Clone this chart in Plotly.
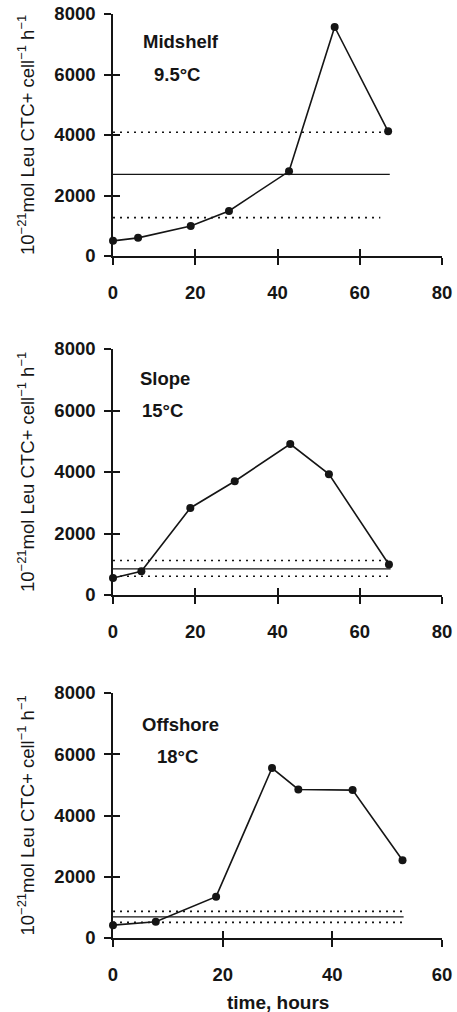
import plotly.graph_objects as go

# ---------------- data ----------------
site_names = ["Midshelf", "Slope", "Offshore"]
site_temps = ["9.5°C", "15°C", "18°C"]

mid_t = [0, 6.1, 18.9, 28.2, 42.8, 53.9, 66.9]
mid_v = [500, 600, 990, 1490, 2800, 7570, 4120]

slope_t = [0, 6.9, 18.8, 29.6, 43.1, 52.5, 67.1]
slope_v = [550, 770, 2830, 3700, 4910, 3930, 990]

off_t = [0, 7.8, 18.8, 29.0, 33.8, 43.7, 52.8]
off_v = [420, 530, 1350, 5550, 4850, 4830, 2540]

# mean and confidence band (horizontal reference lines)
ref_mean = [2700, 850, 690]
ref_upper = [4090, 1120, 870]
ref_lower = [1270, 610, 510]
ref_start = [0, 0, 0]
ref_end_mean = [67.3, 67.5, 53]
ref_end_upper = [67.3, 67.5, 53]
ref_end_lower = [65, 67.5, 53]

x_max = [80, 80, 60]
x_ticks = [[0, 20, 40, 60, 80], [0, 20, 40, 60, 80], [0, 20, 40, 60]]
y_ticks = [0, 2000, 4000, 6000, 8000]
y_max = 8000

y_title = "10<sup>−21</sup>mol Leu CTC+ cell<sup>−1</sup> h<sup>−1</sup>"
x_title = "time, hours"

series_t = [mid_t, slope_t, off_t]
series_v = [mid_v, slope_v, off_v]

# ---------------- layout geometry ----------------
W, H = 457, 1012
x_dom = [113 / W, 442 / W]
rows_px = [(14, 256), (349, 595), (693, 938)]
y_doms = [[1 - b / H, 1 - t / H] for (t, b) in rows_px]
name_pos_px = [(181, 42), (165, 379), (180, 724)]
temp_pos_px = [(177, 74), (162, 410), (177, 756)]

FONT = "Liberation Sans, Arial, sans-serif"
INK = "#151515"
TICK_FONT = dict(family=FONT, size=18.5, color=INK, weight="bold")
LABEL_FONT = dict(family=FONT, size=18.5, color=INK, weight="bold")

fig = go.Figure()
layout = dict(
    width=W, height=H, autosize=False,
    margin=dict(l=0, r=0, t=0, b=0, autoexpand=False),
    paper_bgcolor="white", plot_bgcolor="white",
    showlegend=False,
    font=dict(family=FONT, color=INK),
)
annotations = []

for i in range(3):
    n = i + 1
    ov = n + 3
    xa = "x" if n == 1 else f"x{n}"
    ya = "y" if n == 1 else f"y{n}"
    xo = f"x{ov}"
    yo = f"y{ov}"

    # data series
    fig.add_trace(go.Scatter(
        x=series_t[i], y=series_v[i], mode="lines+markers",
        line=dict(color=INK, width=1.6),
        marker=dict(color=INK, size=8),
        cliponaxis=False, xaxis=xa, yaxis=ya, hoverinfo="x+y",
    ))
    # reference lines, drawn on overlay axes that supply the inner tick halves
    fig.add_trace(go.Scatter(
        x=[ref_start[i], ref_end_mean[i]], y=[ref_mean[i], ref_mean[i]],
        mode="lines", line=dict(color=INK, width=1.2),
        xaxis=xo, yaxis=yo, hoverinfo="skip",
    ))
    fig.add_trace(go.Scatter(
        x=[ref_start[i], ref_end_upper[i]], y=[ref_upper[i], ref_upper[i]],
        mode="lines", line=dict(color=INK, width=1.6, dash="2px,5px"),
        xaxis=xo, yaxis=yo, hoverinfo="skip",
    ))
    fig.add_trace(go.Scatter(
        x=[ref_start[i], ref_end_lower[i]], y=[ref_lower[i], ref_lower[i]],
        mode="lines", line=dict(color=INK, width=1.6, dash="2px,5px"),
        xaxis=xo, yaxis=yo, hoverinfo="skip",
    ))

    common_x = dict(range=[0, x_max[i]], tickvals=x_ticks[i], automargin=False,
                    showgrid=False, zeroline=False, fixedrange=True)
    common_y = dict(range=[0, y_max], tickvals=y_ticks, automargin=False,
                    showgrid=False, zeroline=False, fixedrange=True)

    layout["xaxis" if n == 1 else f"xaxis{n}"] = dict(
        **common_x, domain=x_dom, anchor=ya,
        showline=True, linecolor=INK, linewidth=1.6,
        ticks="outside", ticklen=7, tickwidth=1.6, tickcolor=INK,
        ticklabelstandoff=12, tickfont=TICK_FONT,
    )
    layout["yaxis" if n == 1 else f"yaxis{n}"] = dict(
        **common_y, domain=y_doms[i], anchor=xa,
        showline=True, linecolor=INK, linewidth=1.6,
        ticks="outside", ticklen=7, tickwidth=1.6, tickcolor=INK,
        ticklabelstandoff=5, tickfont=TICK_FONT,
    )
    layout[f"xaxis{ov}"] = dict(
        **common_x, overlaying=xa, anchor=yo, side="bottom",
        showline=False, showticklabels=False,
        ticks="inside", ticklen=7, tickwidth=1.6, tickcolor=INK,
    )
    layout[f"yaxis{ov}"] = dict(
        **common_y, overlaying=ya, anchor=xo, side="left",
        showline=False, showticklabels=False,
        ticks="inside", ticklen=7, tickwidth=1.6, tickcolor=INK,
    )

    nx, ny = name_pos_px[i]
    tx, ty = temp_pos_px[i]
    annotations.append(dict(
        text=site_names[i], xref="paper", yref="paper",
        x=nx / W, y=1 - ny / H, xanchor="center", yanchor="middle",
        showarrow=False, font=LABEL_FONT,
    ))
    annotations.append(dict(
        text=site_temps[i], xref="paper", yref="paper",
        x=tx / W, y=1 - ty / H, xanchor="center", yanchor="middle",
        showarrow=False, font=LABEL_FONT,
    ))
    annotations.append(dict(
        text=y_title, xref="paper", yref=f"{ya} domain",
        x=26 / W, y=0.5, xanchor="center", yanchor="middle", textangle=-90,
        showarrow=False, font=dict(family=FONT, size=18.5, color=INK),
    ))

annotations.append(dict(
    text=x_title, xref="x3 domain", yref="paper",
    x=0.5, y=1 - 1002 / H, xanchor="center", yanchor="middle",
    showarrow=False, font=dict(family=FONT, size=19, color=INK, weight="bold"),
))

layout["annotations"] = annotations
fig.update_layout(**layout)
fig.write_html(
    "out.html",
    config={"displayModeBar": False},
    post_script="document.body.style.margin='0';document.body.style.overflow='hidden';",
)
